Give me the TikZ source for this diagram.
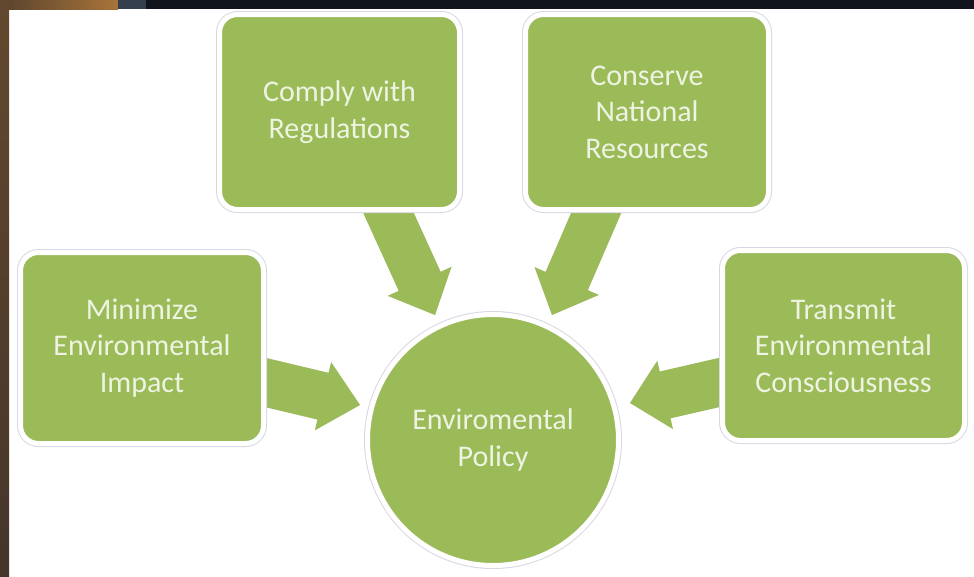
\documentclass[tikz,border=0pt]{standalone}
\usepackage{fontspec}
\setmainfont{Carlito}
\usetikzlibrary{calc}
\definecolor{olive}{HTML}{9BBB59}
\definecolor{cream}{HTML}{EEF3E2}
\definecolor{rim}{HTML}{D8D8E4}
\definecolor{navy}{HTML}{12141D}
\definecolor{bronze}{HTML}{A8753A}
\definecolor{darkbrown}{HTML}{45352A}
\definecolor{slate}{HTML}{34404E}
\pgfdeclarelayer{bg}
\pgfsetlayers{bg,main}
% #1 start, #2 tip, #3 shaft half width, #4 head half width, #5 head length, #6 style
\newcommand{\blockarr}[6]{%
  \path ($(#2)!#5!(#1)$) coordinate (hb);
  \fill[#6] ($(#1)!#3!90:(#2)$) -- ($(hb)!#3!90:(#2)$) -- ($(hb)!#4!90:(#2)$) -- (#2)
    -- ($(hb)!#4!-90:(#2)$) -- ($(hb)!#3!-90:(#2)$) -- ($(#1)!#3!-90:(#2)$) -- cycle;
}
\begin{document}
\begin{tikzpicture}[x=1pt,y=-1pt,
  txt/.style={text=cream, align=center, font=\fontsize{30}{36.5}\selectfont},
  box/.style={txt, rectangle, rounded corners=18pt, fill=olive, draw=white,
    line width=5pt, inner sep=0pt,
    preaction={draw=rim, line width=7pt}},
  hub/.style={txt, circle, fill=olive, draw=white, line width=5pt, inner sep=0pt,
    minimum size=251pt, preaction={draw=rim, line width=7pt}},
  arrowfill/.style={fill=olive},
  arrowshade/.style={fill=black!10}]
\useasboundingbox (0,0) rectangle (974,576);

\node[box, minimum width=240pt, minimum height=195pt] (comply) at (339.5,112) {Comply with\\Regulations};
\node[box, minimum width=243pt, minimum height=195pt] (conserve) at (647,112) {Conserve\\National\\Resources};
\node[box, minimum width=243pt, minimum height=191pt] (minimize) at (142,348) {Minimize\\Environmental\\Impact};
\node[box, minimum width=242pt, minimum height=190pt] (transmit) at (843.5,345.5) {Transmit\\Environmental\\Consciousness};
\node[hub] (policy) at (493,440) {Enviromental\\Policy};

\coordinate (s1) at (384,203);   \coordinate (t1) at (435,315);
\coordinate (s2) at (600.5,203); \coordinate (t2) at (552,315);
\coordinate (s3) at (255,380);   \coordinate (t3) at (360,405);
\coordinate (s4) at (730,380);   \coordinate (t4) at (630,403);

\begin{pgfonlayer}{bg}
  \fill[white] (0,0) rectangle (974,576);
  \fill[navy] (0,0) rectangle (974,9);
  \shade[left color=darkbrown!80!bronze, right color=bronze] (0,0) rectangle (118,9);
  \fill[slate] (118,0) rectangle (146,9);
  \shade[top color=darkbrown!70!bronze, bottom color=darkbrown] (0,0) rectangle (9,576);
  \begin{scope}[shift={(1.5,2)}]
    \blockarr{s1}{t1}{23pt}{35pt}{37pt}{arrowshade}
    \blockarr{s2}{t2}{23pt}{35pt}{37pt}{arrowshade}
    \blockarr{s3}{t3}{24pt}{35pt}{38pt}{arrowshade}
    \blockarr{s4}{t4}{24pt}{35pt}{36pt}{arrowshade}
  \end{scope}
  \blockarr{s1}{t1}{23pt}{35pt}{37pt}{arrowfill}
  \blockarr{s2}{t2}{23pt}{35pt}{37pt}{arrowfill}
  \blockarr{s3}{t3}{24pt}{35pt}{38pt}{arrowfill}
  \blockarr{s4}{t4}{24pt}{35pt}{36pt}{arrowfill}
\end{pgfonlayer}
\end{tikzpicture}
\end{document}
